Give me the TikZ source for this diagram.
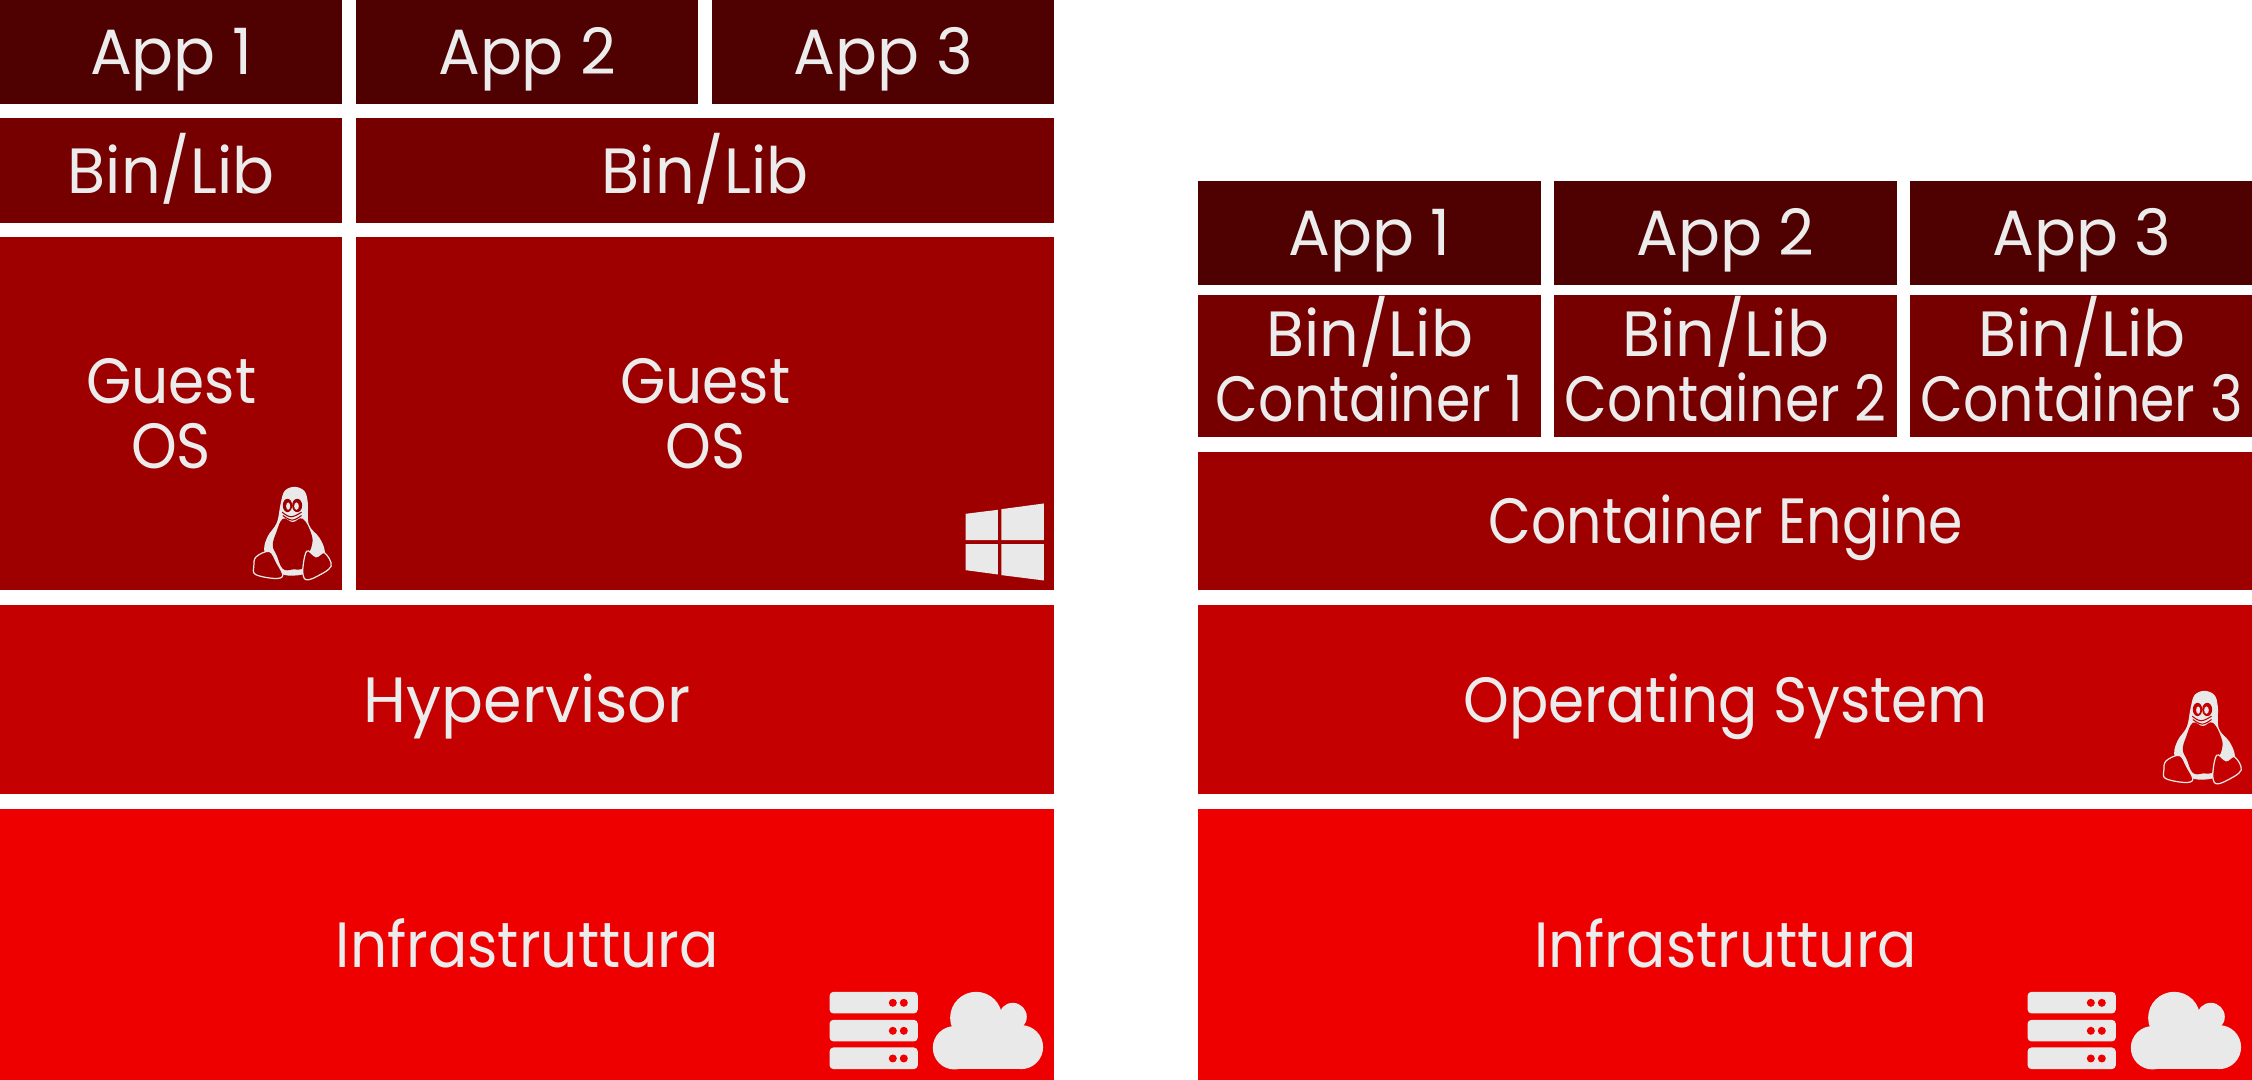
\documentclass[tikz,border=0pt]{standalone}
\usepackage{fontspec}
\setmainfont{Poppins}[FakeStretch=0.91]
\newfontfamily\widefont{Poppins}[FakeStretch=0.97]
\newfontfamily\narrowfont{Poppins}[FakeStretch=0.865]
\usetikzlibrary{positioning}
\definecolor{app color}{HTML}{4F0000}
\definecolor{bin color}{HTML}{760000}
\definecolor{guest color}{HTML}{9E0000}
\definecolor{hyper color}{HTML}{C40000}
\definecolor{infra color}{HTML}{EE0000}
\definecolor{label color}{HTML}{ECECEC}
\definecolor{icon color}{HTML}{E9E9E9}
\tikzset{layer/.style={anchor=north west, inner sep=0pt, text=label color, align=center,
    text height=0.45cm, text depth=0pt, font=\fontsize{18.2}{18.5}\selectfont}}
\tikzset{twolines/.style={text height=1.1cm}}
\tikzset{iconunits/.style={x=0.03333mm, y=-0.03333mm}}
\tikzset{pics/penguin/.style={code={
    \begin{scope}[iconunits]
        \fill[icon color] plot[smooth cycle, tension=0.6] coordinates {(225,52) (255,65) (265,100) (268,165) (300,205) (316,245) (310,290) (250,315) (190,315) (150,280) (134,240) (145,200) (172,160) (183,105) (195,65)};
        \fill[#1] plot[smooth cycle, tension=0.7] coordinates {(190,148) (220,158) (250,148) (276,195) (276,232) (254,292) (220,300) (190,298) (172,258) (160,228) (170,190)};
        \fill[#1] (204,108) ellipse (14 and 20);
        \fill[#1] (233,108) ellipse (15 and 20);
        \fill[icon color] (206,110) ellipse (6 and 11);
        \fill[icon color] (231,110) ellipse (7 and 11);
        \draw[#1, line width=0.3pt] plot[smooth, tension=0.7] coordinates {(188,128) (215,142) (246,128)};
        \draw[#1, line width=0.3pt] plot[smooth, tension=0.7] coordinates {(190,138) (218,152) (246,138)};
        \filldraw[fill=#1, draw=icon color, line width=0.35pt] plot[smooth cycle, tension=0.6] coordinates {(150,246) (172,280) (190,318) (165,327) (108,315) (103,290) (110,262)};
        \filldraw[fill=#1, draw=icon color, line width=0.35pt] plot[smooth cycle, tension=0.6] coordinates {(262,245) (290,262) (315,250) (335,290) (290,322) (258,330) (250,300)};
        \fill[icon color] (287,245) ellipse (16 and 13);
    \end{scope}
}}}
\tikzset{pics/winlogo/.style={code={
    \begin{scope}[iconunits]
        \fill[icon color] (138,103) -- (235,91) -- (235,182) -- (138,182) -- cycle;
        \fill[icon color] (246,89) -- (373,72) -- (373,182) -- (246,182) -- cycle;
        \fill[icon color] (138,194) -- (235,194) -- (235,285) -- (138,272) -- cycle;
        \fill[icon color] (246,194) -- (373,194) -- (373,303) -- (246,287) -- cycle;
    \end{scope}
}}}
\tikzset{pics/racks/.style={code={
    \begin{scope}[iconunits]
        \foreach \y in {97, 181, 264} {
            \fill[icon color, rounded corners=0.4mm] (90,\y) rectangle (355,\y+65);
            \fill[infra color] (280,\y+33) circle (12);
            \fill[infra color] (313,\y+33) circle (12);
        }
        \fill[icon color] (465,265) circle (65);
        \fill[icon color] (530,175) circle (78);
        \fill[icon color] (640,172) circle (42);
        \fill[icon color] (665,263) circle (66);
        \fill[icon color] (465,175) rectangle (665,329);
    \end{scope}
}}}

\begin{document}
\begin{tikzpicture}
    \useasboundingbox (0.005, -0.005) rectangle (22.525, 10.795);

    % virtual machines
    \node[layer, fill=app color, minimum width=3.42cm, minimum height=1.04cm] (vm app one) at (0, 10.8) {\widefont App 1};
    \node[layer, fill=app color, minimum width=3.42cm, minimum height=1.04cm] (vm app two) at (3.56, 10.8) {\widefont App 2};
    \node[layer, fill=app color, minimum width=3.42cm, minimum height=1.04cm] (vm app three) at (7.12, 10.8) {\widefont App 3};
    \node[layer, fill=bin color, minimum width=3.42cm, minimum height=1.05cm] (vm bin one) at (0, 9.62) {\widefont Bin/Lib};
    \node[layer, fill=bin color, minimum width=6.98cm, minimum height=1.05cm] (vm bin two) at (3.56, 9.62) {\widefont Bin/Lib};
    \node[layer, twolines, fill=guest color, minimum width=3.42cm, minimum height=3.53cm] (guest one) at (0, 8.43) {Guest\\OS};
    \node[layer, twolines, fill=guest color, minimum width=6.98cm, minimum height=3.53cm] (guest two) at (3.56, 8.43) {Guest\\OS};
    \node[layer, fill=hyper color, minimum width=10.54cm, minimum height=1.89cm] (hypervisor) at (0, 4.75) {\widefont Hypervisor};
    \node[layer, fill=infra color, minimum width=10.54cm, minimum height=2.72cm] (vm infra) at (0, 2.71) {Infrastruttura};

    % containers
    \foreach \i/\x in {1/11.98, 2/15.54, 3/19.10} {
        \node[layer, fill=app color, minimum width=3.43cm, minimum height=1.04cm] (app \i) at (\x, 8.99) {\widefont App \i};
        \node[layer, twolines, fill=bin color, minimum width=3.43cm, minimum height=1.42cm] (bin \i) at (\x, 7.85) {{\widefont Bin/Lib}\\\narrowfont Container \i};
    }
    \node[layer, fill=guest color, minimum width=10.55cm, minimum height=1.38cm] (engine) at (11.98, 6.28) {\narrowfont Container Engine};
    \node[layer, fill=hyper color, minimum width=10.55cm, minimum height=1.89cm] (host os) at (11.98, 4.75) {Operating System};
    \node[layer, fill=infra color, minimum width=10.55cm, minimum height=2.72cm] (infra) at (11.98, 2.71) {Infrastruttura};

    % icons
    \pic at (2.2, 6.1) {penguin=guest color};
    \pic at (9.2, 6) {winlogo};
    \pic at (21.3, 4.06) {penguin=hyper color};
    \pic at (8, 1.2) {racks};
    \pic at (19.98, 1.2) {racks};
\end{tikzpicture}
\end{document}
